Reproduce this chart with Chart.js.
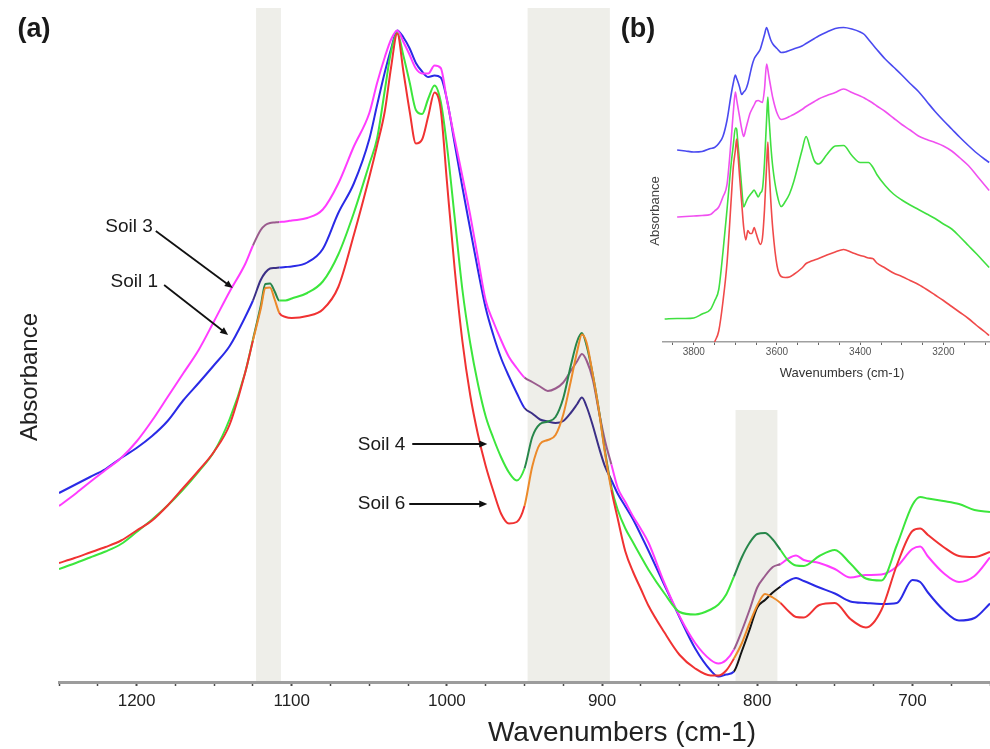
<!DOCTYPE html>
<html>
<head>
<meta charset="utf-8">
<script src="https://cdn.jsdelivr.net/npm/chart.js@4.4.1/dist/chart.umd.min.js"></script>
<style>
  html, body { margin: 0; padding: 0; background: #fff; }
  #wrap { position: relative; width: 990px; height: 749px; overflow: hidden; }
  #mainChart { position: absolute; left: 0; top: 0; }
  #insetChart { position: absolute; left: 612px; top: 0; background: #fff; }
</style>
</head>
<body>
<div id="wrap">
  <canvas id="mainChart" width="990" height="749"></canvas>
  <canvas id="insetChart" width="378" height="410"></canvas>
</div>
<script>
// (a) 1250-650 cm-1 region
const wavenumbers = [1250,1240,1230,1220,1210,1200,1190,1180,1170,1160,1150,1140,1130,1125,1120,1117,1114,1111,1108,1104,1100,1090,1080,1070,1060,1050,1045,1040,1036,1032,1028,1024,1020,1016,1012,1008,1004,1000,995,990,985,980,975,970,965,960,955,950,945,940,935,930,925,920,916,913,910,906,902,898,894,890,885,880,875,870,860,850,840,830,825,820,815,810,805,800,795,790,785,780,775,770,760,750,740,730,720,710,700,695,690,680,670,660,650];

const soil1 = [0.378,0.394,0.410,0.426,0.448,0.468,0.492,0.522,0.563,0.598,0.634,0.672,0.730,0.763,0.804,0.819,0.827,0.828,0.829,0.830,0.831,0.839,0.866,0.938,0.997,1.086,1.154,1.220,1.266,1.303,1.289,1.267,1.238,1.221,1.210,1.213,1.209,1.165,1.077,0.989,0.906,0.824,0.748,0.693,0.647,0.611,0.578,0.548,0.537,0.525,0.521,0.518,0.522,0.539,0.556,0.569,0.551,0.513,0.469,0.430,0.404,0.377,0.351,0.325,0.294,0.262,0.195,0.129,0.067,0.023,0.011,0.015,0.021,0.061,0.104,0.149,0.164,0.179,0.191,0.202,0.208,0.202,0.189,0.177,0.161,0.158,0.156,0.158,0.204,0.200,0.179,0.144,0.123,0.128,0.157];
const soil3 = [0.352,0.375,0.400,0.424,0.448,0.481,0.523,0.570,0.617,0.664,0.722,0.781,0.836,0.873,0.904,0.914,0.918,0.919,0.920,0.921,0.923,0.928,0.945,0.997,1.071,1.138,1.198,1.250,1.285,1.303,1.280,1.254,1.227,1.217,1.217,1.233,1.228,1.164,1.086,1.011,0.934,0.848,0.763,0.720,0.683,0.650,0.628,0.609,0.600,0.591,0.582,0.587,0.599,0.623,0.642,0.656,0.643,0.605,0.540,0.481,0.435,0.389,0.360,0.331,0.306,0.278,0.199,0.131,0.078,0.044,0.037,0.044,0.065,0.102,0.144,0.189,0.212,0.230,0.236,0.247,0.253,0.244,0.238,0.226,0.209,0.214,0.215,0.231,0.266,0.271,0.251,0.218,0.200,0.212,0.249];
const soil4 = [0.226,0.237,0.249,0.261,0.276,0.300,0.325,0.353,0.385,0.421,0.461,0.526,0.619,0.685,0.752,0.796,0.797,0.781,0.763,0.763,0.767,0.778,0.801,0.855,0.938,1.036,1.087,1.184,1.261,1.298,1.252,1.199,1.144,1.136,1.167,1.193,1.161,1.073,0.929,0.784,0.678,0.596,0.531,0.487,0.449,0.419,0.403,0.427,0.490,0.516,0.521,0.530,0.568,0.635,0.682,0.698,0.673,0.615,0.543,0.459,0.390,0.345,0.307,0.279,0.251,0.224,0.178,0.140,0.135,0.145,0.155,0.175,0.211,0.249,0.278,0.296,0.298,0.285,0.264,0.243,0.233,0.232,0.252,0.264,0.237,0.207,0.203,0.274,0.354,0.370,0.367,0.362,0.356,0.344,0.340];
const soil6 = [0.238,0.248,0.259,0.270,0.283,0.303,0.323,0.353,0.388,0.423,0.461,0.515,0.619,0.683,0.746,0.788,0.789,0.765,0.738,0.730,0.728,0.732,0.745,0.790,0.894,1.010,1.073,1.142,1.229,1.297,1.220,1.141,1.077,1.085,1.132,1.179,1.145,1.001,0.826,0.681,0.574,0.495,0.432,0.381,0.336,0.317,0.320,0.352,0.431,0.476,0.484,0.494,0.535,0.604,0.662,0.695,0.679,0.615,0.542,0.455,0.384,0.328,0.261,0.220,0.186,0.152,0.100,0.054,0.027,0.013,0.013,0.023,0.047,0.077,0.117,0.153,0.176,0.169,0.158,0.142,0.130,0.129,0.154,0.158,0.126,0.109,0.144,0.234,0.302,0.307,0.294,0.270,0.252,0.250,0.260];

const xTicks = [1200, 1100, 1000, 900, 800, 700];
const bands = [[1123, 1107], [948, 895], [814, 787]];

// callout arrows: where each arrow points (wavenumber, absorbance)
const calloutNames = ['Soil 3', 'Soil 1', 'Soil 4', 'Soil 6'];
const calloutWn = [1138, 1141, 974, 974];
const calloutAbs = [0.788, 0.694, 0.476, 0.356];

// (b) OH stretching region
const insetWavenumbers = [3870,3840,3820,3800,3780,3760,3750,3740,3730,3720,3710,3705,3700,3697,3695,3690,3685,3680,3675,3670,3665,3660,3655,3650,3645,3640,3635,3630,3625,3622,3620,3615,3610,3600,3590,3580,3570,3560,3540,3530,3520,3510,3500,3480,3460,3440,3420,3400,3390,3380,3370,3360,3340,3320,3300,3280,3260,3240,3220,3200,3180,3160,3140,3120,3100,3090];
const insetSoil1 = [null,0.384,0.382,0.380,0.381,0.387,0.389,0.397,0.411,0.444,0.496,0.518,0.534,0.527,0.523,0.510,0.495,0.500,0.505,0.517,0.535,0.553,0.566,0.573,0.579,0.586,0.600,0.615,0.629,0.623,0.617,0.604,0.596,0.587,0.579,0.580,0.583,0.586,0.592,0.597,0.602,0.607,0.612,0.620,0.627,0.629,0.626,0.620,0.615,0.605,0.595,0.585,0.566,0.550,0.534,0.517,0.501,0.481,0.461,0.443,0.426,0.409,0.393,0.378,0.365,0.359];
const insetSoil3 = [null,0.250,0.251,0.252,0.253,0.255,0.262,0.270,0.290,0.316,0.407,0.460,0.500,0.485,0.475,0.451,0.427,0.411,0.426,0.442,0.457,0.466,0.474,0.482,0.483,0.481,0.479,0.506,0.556,0.545,0.534,0.510,0.488,0.458,0.445,0.447,0.451,0.455,0.465,0.471,0.476,0.481,0.486,0.493,0.499,0.506,0.499,0.492,0.488,0.483,0.478,0.472,0.461,0.448,0.435,0.424,0.412,0.405,0.399,0.392,0.382,0.368,0.353,0.333,0.313,0.303];
const insetSoil4 = [0.046,0.047,0.047,0.048,0.056,0.065,0.082,0.105,0.179,0.266,0.358,0.394,0.428,0.426,0.408,0.361,0.310,0.270,0.279,0.288,0.294,0.299,0.304,0.297,0.290,0.298,0.306,0.359,0.445,0.490,0.458,0.395,0.349,0.296,0.271,0.281,0.296,0.320,0.383,0.411,0.387,0.362,0.356,0.375,0.392,0.393,0.373,0.359,0.359,0.359,0.350,0.335,0.313,0.296,0.284,0.274,0.265,0.256,0.247,0.236,0.226,0.210,0.193,0.176,0.158,0.149];
const insetSoil6 = [null,null,null,null,null,null,0.000,0.022,0.080,0.159,0.286,0.350,0.384,0.406,0.389,0.332,0.280,0.229,0.204,0.223,0.217,0.217,0.229,0.217,0.204,0.195,0.208,0.265,0.353,0.400,0.361,0.284,0.225,0.153,0.131,0.129,0.130,0.135,0.148,0.157,0.161,0.164,0.167,0.174,0.180,0.185,0.179,0.173,0.171,0.168,0.167,0.158,0.148,0.138,0.131,0.123,0.115,0.105,0.094,0.083,0.071,0.059,0.047,0.033,0.020,0.013];
const insetTicks = [3800, 3600, 3400, 3200];

const FONT = '"Liberation Sans", Arial, sans-serif';

// main spectra: segments inside the grey bands get a darker tone
function series(label, values, color, bandColor, band3Color) {
  return {
    label: label,
    data: wavenumbers.map((w, i) => ({ x: w, y: values[i] })),
    borderColor: color,
    borderWidth: 2,
    pointRadius: 0,
    cubicInterpolationMode: 'monotone',
    segment: {
      borderColor: ctx => {
        const mid = (ctx.p0.parsed.x + ctx.p1.parsed.x) / 2;
        const i = bands.findIndex(b => mid <= b[0] && mid >= b[1]);
        if (i < 0) return color;
        return (i === 2 && band3Color) ? band3Color : bandColor;
      }
    }
  };
}

function insetSeries(label, values, color) {
  return {
    label: label,
    data: insetWavenumbers.map((w, i) => ({ x: w, y: values[i] })),
    borderColor: color,
    borderWidth: 1.6,
    pointRadius: 0,
    cubicInterpolationMode: 'monotone'
  };
}

function drawArrow(ctx, x0, y0, x1, y1) {
  const a = Math.atan2(y1 - y0, x1 - x0);
  const c = Math.cos(a), s = Math.sin(a);
  ctx.beginPath();
  ctx.moveTo(x0, y0);
  ctx.lineTo(x1 - 6 * c, y1 - 6 * s);
  ctx.stroke();
  ctx.beginPath();
  ctx.moveTo(x1, y1);
  ctx.lineTo(x1 - 8 * c + 3.5 * s, y1 - 8 * s - 3.5 * c);
  ctx.lineTo(x1 - 8 * c - 3.5 * s, y1 - 8 * s + 3.5 * c);
  ctx.closePath();
  ctx.fill();
}

// let the plot run right to the edges (no room kept for edge tick labels)
function noSidePadding(scale) {
  scale.paddingLeft = 0;
  scale.paddingRight = 0;
}

const bandPlugin = {
  id: 'bands',
  beforeDraw(chart) {
    const { ctx, chartArea, scales: { x } } = chart;
    ctx.save();
    ctx.fillStyle = '#eeeee9';
    bands.forEach(([hi, lo]) => {
      const x0 = x.getPixelForValue(hi);
      const x1 = x.getPixelForValue(lo);
      ctx.fillRect(x0, chartArea.top, x1 - x0, chartArea.bottom - chartArea.top);
    });
    ctx.restore();
  }
};

// text label offsets (relative to arrow tip): text right edge, arrow start
const calloutLayout = [
  { tx: -80, ty: -61, sx: -77, sy: -57 },
  { tx: -70, ty: -53, sx: -64, sy: -50 },
  { tx: -82, ty: 1, sx: -75, sy: 0 },
  { tx: -82, ty: 0, sx: -78, sy: 0 }
];

const mainText = {
  id: 'mainText',
  afterDraw(chart) {
    const { ctx, scales: { x, y } } = chart;
    ctx.save();
    ctx.fillStyle = '#1a1a1a';
    ctx.textBaseline = 'middle';
    ctx.textAlign = 'center';
    ctx.font = 'bold 27px ' + FONT;
    ctx.fillText('(a)', 34, 30);

    ctx.font = '28px ' + FONT;
    ctx.fillStyle = '#222';
    ctx.fillText('Wavenumbers (cm-1)', 622, 733);

    ctx.save();
    ctx.translate(30, 377);
    ctx.rotate(-Math.PI / 2);
    ctx.font = '24px ' + FONT;
    ctx.fillText('Absorbance', 0, 0);
    ctx.restore();

    ctx.font = '19px ' + FONT;
    ctx.strokeStyle = '#111';
    ctx.lineWidth = 1.8;
    calloutNames.forEach((name, i) => {
      const px = x.getPixelForValue(calloutWn[i]);
      const py = y.getPixelForValue(calloutAbs[i]);
      const l = calloutLayout[i];
      ctx.textAlign = 'right';
      ctx.fillStyle = '#1a1a1a';
      ctx.fillText(name, px + l.tx, py + l.ty);
      ctx.fillStyle = '#111';
      drawArrow(ctx, px + l.sx, py + l.sy, px, py);
    });
    ctx.restore();
  }
};

const insetText = {
  id: 'insetText',
  afterDraw(chart) {
    const ctx = chart.ctx;
    ctx.save();
    ctx.textBaseline = 'middle';
    ctx.textAlign = 'center';
    ctx.fillStyle = '#1a1a1a';
    ctx.font = 'bold 27px ' + FONT;
    ctx.fillText('(b)', 26, 30);

    ctx.fillStyle = '#333';
    ctx.font = '13px ' + FONT;
    ctx.fillText('Wavenumbers (cm-1)', 230, 373);

    ctx.save();
    ctx.translate(43, 211);
    ctx.rotate(-Math.PI / 2);
    ctx.fillStyle = '#444';
    ctx.fillText('Absorbance', 0, 0);
    ctx.restore();
    ctx.restore();
  }
};

new Chart(document.getElementById('mainChart'), {
  type: 'line',
  data: {
    datasets: [
      series('Soil 6', soil6, '#f03232', '#ec8a2a', null),
      series('Soil 4', soil4, '#3ce63c', '#27864a', null),
      series('Soil 3', soil3, '#ff3cff', '#9a5b8d', null),
      series('Soil 1', soil1, '#2a2ae6', '#3b2f86', '#141414')
    ]
  },
  options: {
    responsive: false,
    animation: false,
    devicePixelRatio: 1,
    layout: { padding: { left: 59, top: 8, right: 0, bottom: 32.6 } },
    plugins: { legend: { display: false }, tooltip: { enabled: false } },
    scales: {
      x: {
        type: 'linear',
        reverse: true,
        min: 650,
        max: 1250,
        afterFit: noSidePadding,
        border: { color: '#9c9c9c', width: 3 },
        grid: {
          drawOnChartArea: false,
          tickLength: 4,
          tickColor: '#4a4a4a',
          tickWidth: c => xTicks.includes(c.tick.value) ? 2 : 1.5
        },
        ticks: {
          stepSize: 25,
          autoSkip: false,
          maxRotation: 0,
          padding: 5,
          color: '#222',
          font: { size: 17, family: FONT },
          callback: v => xTicks.includes(v) ? String(v) : ''
        }
      },
      y: { display: false, min: 0, max: 1.348 }
    }
  },
  plugins: [bandPlugin, mainText]
});

new Chart(document.getElementById('insetChart'), {
  type: 'line',
  data: {
    datasets: [
      insetSeries('Soil 6', insetSoil6, '#f04a4a'),
      insetSeries('Soil 4', insetSoil4, '#40e040'),
      insetSeries('Soil 3', insetSoil3, '#f050f0'),
      insetSeries('Soil 1', insetSoil1, '#4a4af0')
    ]
  },
  options: {
    responsive: false,
    animation: false,
    devicePixelRatio: 1,
    layout: { padding: { left: 51, top: 20, right: 0, bottom: 51 } },
    plugins: { legend: { display: false }, tooltip: { enabled: false } },
    scales: {
      x: {
        type: 'linear',
        reverse: true,
        min: 3088,
        max: 3874,
        afterFit: noSidePadding,
        border: { color: '#a0a0a0', width: 1.5 },
        grid: { drawOnChartArea: false, tickLength: 3, tickColor: '#666', tickWidth: 1 },
        ticks: {
          stepSize: 50,
          includeBounds: false,
          autoSkip: false,
          maxRotation: 0,
          padding: 1,
          color: '#555',
          font: { size: 10, family: FONT },
          callback: v => insetTicks.includes(v) ? String(v) : ''
        }
      },
      y: { display: false, min: 0, max: 0.644 }
    }
  },
  plugins: [insetText]
});
</script>
</body>
</html>
